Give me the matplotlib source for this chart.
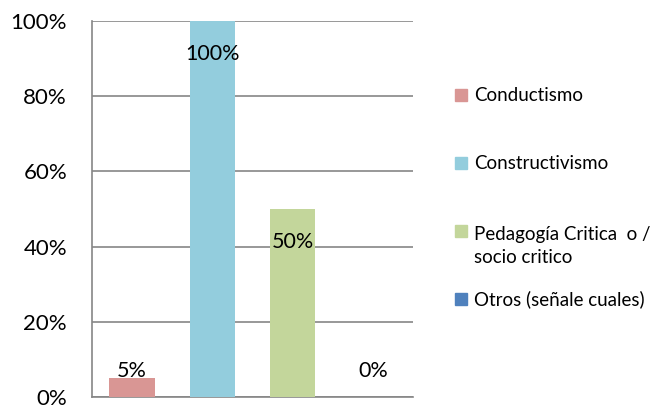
import matplotlib.pyplot as plt
from matplotlib.patches import Rectangle

categories = ["Conductismo", "Constructivismo", "Pedagogía Critica  o /\nsocio critico", "Otros (señale cuales)"]
values = [5, 100, 50, 0]
colors = ["#D99694", "#93CDDD", "#C3D69B", "#4F81BD"]
yticks = [0, 20, 40, 60, 80, 100]

plt.rcParams['font.family'] = ['Lato', 'DejaVu Sans']

W, H = 659, 405
fig = plt.figure(figsize=(W / 100, H / 100), dpi=100)
ax = fig.add_axes([92 / W, 8 / H, 321 / W, 376 / H])

x = range(len(values))
ax.bar(x, values, width=0.57, color=colors, zorder=3)
ax.set_xlim(-0.5, len(values) - 0.5)
ax.set_ylim(0, 100)
ax.set_yticks(yticks)
ax.set_yticklabels([f"{v}%" for v in yticks], fontsize=16)
ax.set_xticks([])
ax.tick_params(axis='y', length=0, pad=18)
ax.yaxis.grid(True, color="#868686", linewidth=1.2, zorder=0)
for side in ["top", "right"]:
    ax.spines[side].set_visible(False)
for side in ["left", "bottom"]:
    ax.spines[side].set_color("#868686")
    ax.spines[side].set_linewidth(1.2)

# data labels: inside the top for tall bars, above the baseline for small ones
for i, v in enumerate(values):
    if v > 10:
        ax.annotate(f"{v}%", (i, v), xytext=(0, -24), textcoords="offset points",
                    ha="center", va="center", fontsize=15.5, zorder=4)
    else:
        ax.annotate(f"{v}%", (i, 0), xytext=(0, 19), textcoords="offset points",
                    ha="center", va="center", fontsize=15.5, zorder=4)

# legend drawn by hand (Excel style, top aligned entries)
legend_y = [95, 163, 231, 299]
line_step = 26
for name, col, ly in zip(categories, colors, legend_y):
    fig.add_artist(Rectangle((455 / W, 1 - (ly + 6) / H), 12 / W, 12 / H,
                             transform=fig.transFigure, color=col))
    n_lines = name.count("\n") + 1
    base = ly + 6 + (n_lines - 1) * line_step
    fig.text(474 / W, 1 - base / H, name, fontsize=13.5, va="baseline", ha="left",
             linespacing=1.4)

fig.savefig("out.png", dpi=100)
